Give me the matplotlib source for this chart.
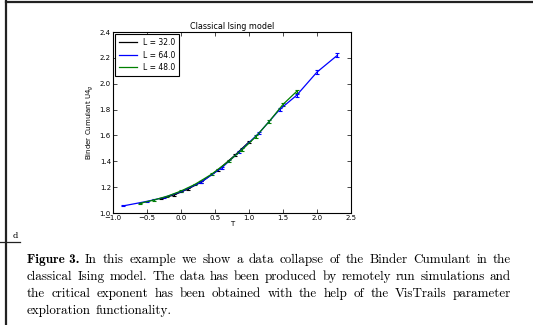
import numpy as np
import matplotlib
matplotlib.use("Agg")
import matplotlib.pyplot as plt
from matplotlib.lines import Line2D

# ---- data ----
T_32 = [-0.30, -0.10, 0.10, 0.30, 0.55, 0.80, 1.00]
U_32 = [1.110, 1.140, 1.185, 1.240, 1.335, 1.450, 1.550]
E_32 = [0.005, 0.005, 0.006, 0.006, 0.007, 0.008, 0.008]

T_64 = [-0.85, -0.50, -0.25, 0.00, 0.30, 0.60, 0.85, 1.15, 1.45, 1.70, 2.00, 2.30]
U_64 = [1.055, 1.090, 1.120, 1.165, 1.240, 1.350, 1.470, 1.620, 1.800, 1.910, 2.090, 2.220]
E_64 = [0.004, 0.005, 0.005, 0.006, 0.007, 0.008, 0.009, 0.010, 0.011, 0.012, 0.013, 0.015]

T_48 = [-0.60, -0.40, -0.20, 0.00, 0.20, 0.45, 0.70, 0.90, 1.10, 1.30, 1.50, 1.70]
U_48 = [1.075, 1.100, 1.130, 1.170, 1.220, 1.300, 1.400, 1.490, 1.590, 1.710, 1.840, 1.940]
E_48 = [0.004, 0.005, 0.005, 0.006, 0.006, 0.007, 0.008, 0.009, 0.010, 0.010, 0.011, 0.012]

series = [("L = 32.0", T_32, U_32, E_32, "black"),
          ("L = 64.0", T_64, U_64, E_64, "blue"),
          ("L = 48.0", T_48, U_48, E_48, "green")]

caption_lines = [
    "In this example we show a data collapse of the Binder Cumulant in the",
    "classical Ising model.  The data has been produced by remotely run simulations and",
    "the critical exponent has been obtained with the help of the VisTrails parameter",
    "exploration functionality.",
]

W, H = 533, 325
fig = plt.figure(figsize=(W / 100, H / 100), dpi=100)
fig.patch.set_facecolor("white")

# page frame remnants
fig.add_artist(Line2D([6 / W, 1], [1 - 1.5 / H] * 2, color="#222222", lw=1.6))
fig.add_artist(Line2D([6 / W, 6 / W], [0, 1 - 1 / H], color="#222222", lw=1.6))
fig.add_artist(Line2D([0, 20 / W], [1 - 242 / H] * 2, color="#222222", lw=0.9))
fig.text(13 / W, 1 - 238 / H, "d", fontsize=6, family="DejaVu Serif", va="baseline")

# ---- chart ----
l, r, t, b = 113, 351, 32, 213
ax = fig.add_axes([l / W, 1 - b / H, (r - l) / W, (b - t) / H])
handles = []
for name, x, y, e, c in series:
    ax.errorbar(x, y, yerr=e, color=c, lw=0.9, elinewidth=0.8, capsize=1.5,
                capthick=0.8)
    handles.append(Line2D([], [], color=c, lw=0.9, label=name))
ax.set_xlim(-1.0, 2.5)
ax.set_ylim(1.0, 2.4)
ax.set_xticks(np.arange(-1.0, 2.51, 0.5))
ax.set_yticks(np.arange(1.0, 2.41, 0.2))
ax.tick_params(direction="in", length=3, width=0.5, labelsize=5, pad=1.5,
               top=True, right=True)
for s in ax.spines.values():
    s.set_linewidth(0.8)
ax.set_title("Classical Ising model", fontsize=5.8, pad=2)
ax.set_xlabel("T", fontsize=5, labelpad=0)
ax.set_ylabel("Binder Cumulant U4$_g$", fontsize=5, labelpad=3)
leg = ax.legend(handles=handles, loc="upper left", fontsize=5.5, handlelength=2.3,
                borderpad=0.5, labelspacing=0.45, fancybox=False, framealpha=1,
                borderaxespad=0.3)
leg.get_frame().set_edgecolor("black")
leg.get_frame().set_linewidth(0.8)

# ---- justified caption (Computer Modern shipped with matplotlib) ----
x0, x1 = 27, 511
ys = [263, 280, 297, 314]
renderer = fig.canvas.get_renderer()
fams = {"normal": "cmr10", "bold": "cmb10"}


def width_px(s, fs, weight="normal"):
    tt = fig.text(0, 0, s, fontsize=fs, family=fams[weight])
    w = tt.get_window_extent(renderer).width
    tt.remove()
    return w


def words_of(i):
    ws = [("Figure 3.", "bold")] if i == 0 else []
    return ws + [(wd, "normal") for wd in caption_lines[i].split()]


# size the font so the second (tightest) line sets with a normal space
ref = 10.0
wds = words_of(1)
nat = sum(width_px(wd, ref, wt) for wd, wt in wds)
sp = width_px("a a", ref) - width_px("aa", ref)
nat += sp * 1.05 * (len(wds) - 1)
fs = ref * (x1 - x0) / nat

for i in range(len(caption_lines)):
    words = words_of(i)
    widths = [width_px(wd, fs, wt) for wd, wt in words]
    if i < len(caption_lines) - 1:
        gap = (x1 - x0 - sum(widths)) / (len(words) - 1)
    else:
        gap = width_px("a a", fs) - width_px("aa", fs)
    x = x0
    for (wd, wt), w in zip(words, widths):
        fig.text(x / W, 1 - ys[i] / H, wd, fontsize=fs, family=fams[wt],
                 va="baseline")
        x += w + gap

fig.savefig("out.png", dpi=100)
